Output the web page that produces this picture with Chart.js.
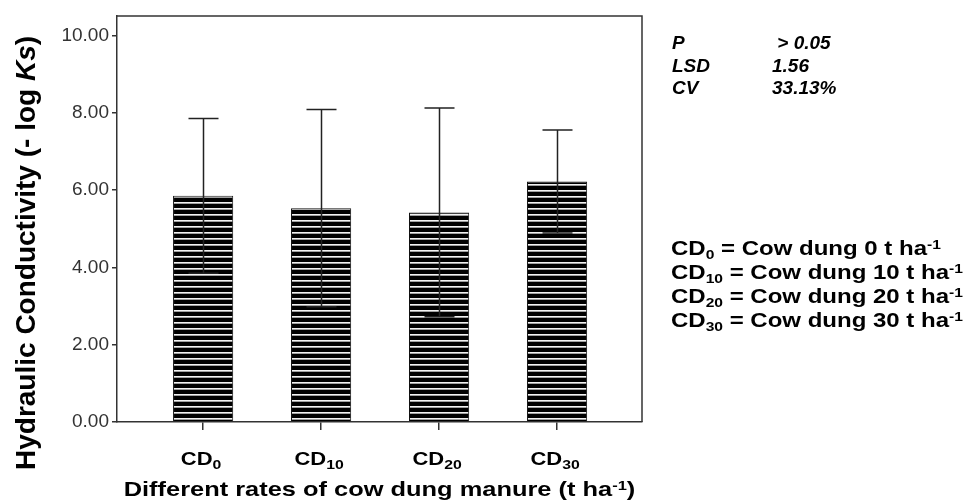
<!DOCTYPE html>
<html>
<head>
<meta charset="utf-8">
<script src="https://cdn.jsdelivr.net/npm/chart.js@4.4.1/dist/chart.umd.min.js"></script>
<style>
  html, body { margin: 0; padding: 0; background: #fff; }
</style>
</head>
<body>
<canvas id="hcChart" width="979" height="504"></canvas>
<script>
// values; _{..} = subscript, ^{..} = superscript
const categories = ['CD_{0}', 'CD_{10}', 'CD_{20}', 'CD_{30}'];
const meanValues = [5.85, 5.53, 5.42, 6.22];
const errorValues = [2.0, 2.55, 2.7, 1.33];
const yTicks = [0, 2, 4, 6, 8, 10];
const statLabels = ['P', 'LSD', 'CV'];
const statValues = [' > 0.05', '1.56', '33.13%'];
const legendLines = [
  'CD_{0} = Cow dung 0 t ha^{-1}',
  'CD_{10} = Cow dung 10 t ha^{-1}',
  'CD_{20} = Cow dung 20 t ha^{-1}',
  'CD_{30} = Cow dung 30 t ha^{-1}'
];
const xTitle = 'Different rates of cow dung manure (t ha^{-1})';

const FONT = 'Arial, "Liberation Sans", sans-serif';

// horizontal stripe fill like the SPSS hatch
function stripePattern(ctx) {
  const c = document.createElement('canvas');
  c.width = 6; c.height = 6;
  const g = c.getContext('2d');
  g.fillStyle = '#000';
  g.fillRect(0, 0, 6, 6);
  g.fillStyle = '#f2f2f2';
  g.fillRect(0, 4, 6, 1);
  g.fillStyle = '#a0a0a0';
  g.fillRect(0, 5, 6, 1);
  return ctx.createPattern(c, 'repeat');
}

// draw text with sub/superscripts, stretched horizontally by sx
function drawRich(ctx, str, x, y, size, style, sx, align, subRatio) {
  const segs = str.split(/(_\{[^}]*\}|\^\{[^}]*\})/).filter(s => s.length).map(s => {
    if (s.startsWith('_{')) return { t: s.slice(2, -1), f: size * subRatio, dy: size * 0.22 };
    if (s.startsWith('^{')) return { t: s.slice(2, -1), f: size * 0.65, dy: -size * 0.3 };
    return { t: s, f: size, dy: 0 };
  });
  let w = 0;
  segs.forEach(s => {
    ctx.font = style + ' ' + s.f + 'px ' + FONT;
    s.w = ctx.measureText(s.t).width;
    w += s.w;
  });
  ctx.save();
  ctx.translate(x, y);
  ctx.scale(sx, 1);
  let xo = align === 'center' ? -w / 2 : 0;
  ctx.textAlign = 'left';
  segs.forEach(s => {
    ctx.font = style + ' ' + s.f + 'px ' + FONT;
    ctx.fillText(s.t, xo, s.dy);
    xo += s.w;
  });
  ctx.restore();
}

// error bars (mean +/- error)
const errorBars = {
  id: 'errorBars',
  afterDatasetsDraw(chart) {
    const { ctx, scales: { x, y } } = chart;
    ctx.save();
    ctx.strokeStyle = '#222';
    ctx.lineWidth = 1.5;
    meanValues.forEach((m, i) => {
      const px = Math.round(x.getPixelForValue(i)) + 0.5;
      const top = y.getPixelForValue(m + errorValues[i]);
      const bot = y.getPixelForValue(m - errorValues[i]);
      ctx.beginPath();
      ctx.moveTo(px, top); ctx.lineTo(px, bot);
      ctx.moveTo(px - 15, top); ctx.lineTo(px + 15, top);
      ctx.moveTo(px - 15, bot); ctx.lineTo(px + 15, bot);
      ctx.stroke();
    });
    ctx.restore();
  }
};

// frame, category labels, titles and the text notes at the right
const annotations = {
  id: 'annotations',
  afterDraw(chart) {
    const { ctx, chartArea: a, scales: { x } } = chart;
    ctx.save();
    ctx.strokeStyle = '#333';
    ctx.lineWidth = 1.5;
    ctx.beginPath();
    ctx.moveTo(a.left, a.top); ctx.lineTo(a.right, a.top); ctx.lineTo(a.right, a.bottom);
    ctx.stroke();

    ctx.fillStyle = '#000';
    ctx.textBaseline = 'alphabetic';

    // category labels under the ticks
    categories.forEach((c, i) => {
      drawRich(ctx, c, x.getPixelForValue(i) - 2, 465, 18, 'bold', 1.22, 'center', 0.72);
    });

    // y title with italic Ks
    ctx.save();
    ctx.translate(35, 470);
    ctx.rotate(-Math.PI / 2);
    const parts = [['Hydraulic Conductivity (- log ', 'bold'], ['Ks', 'italic bold'], [')', 'bold']];
    let xo = 0;
    parts.forEach(([t, st]) => {
      ctx.font = st + ' 28px ' + FONT;
      ctx.fillText(t, xo, 0);
      xo += ctx.measureText(t).width;
    });
    ctx.restore();

    // x title
    drawRich(ctx, xTitle, (a.left + a.right) / 2, 496, 21, 'bold', 1.21, 'center', 0.65);

    // statistics
    ctx.textAlign = 'left';
    ctx.font = 'italic bold 19px ' + FONT;
    statLabels.forEach((s, i) => {
      const by = 49 + i * 22.5;
      ctx.fillText(s, 672, by);
      ctx.fillText(statValues[i], 772, by);
    });

    // treatment key
    legendLines.forEach((s, i) => {
      drawRich(ctx, s, 671, 255 + i * 24, 20, 'bold', 1.2, 'left', 0.65);
    });
    ctx.restore();
  }
};

const ctx = document.getElementById('hcChart').getContext('2d');
const hcChart = new Chart(ctx, {
  type: 'bar',
  data: {
    datasets: [{
      data: meanValues.map((v, i) => ({ x: i, y: v })),
      backgroundColor: stripePattern(ctx),
      borderColor: '#111',
      borderWidth: 1,
      barPercentage: 0.51,
      categoryPercentage: 1.0
    }]
  },
  options: {
    responsive: false,
    animation: false,
    devicePixelRatio: 1,
    layout: { padding: { top: 16, right: 337, left: 0, bottom: 0 } },
    plugins: {
      legend: { display: false },
      tooltip: { enabled: false }
    },
    scales: {
      x: {
        type: 'linear',
        offset: false,
        min: -0.73,
        max: 3.72,
        afterBuildTicks: s => { s.ticks = categories.map((c, i) => ({ value: i })); },
        afterFit: s => { s.height = 82; },
        grid: { offset: false, drawOnChartArea: false, tickLength: 8, color: '#333', lineWidth: 1.5 },
        border: { color: '#333', width: 1.5 },
        ticks: { display: false }
      },
      y: {
        min: 0,
        max: 10.5,
        afterBuildTicks: s => { s.ticks = yTicks.map(v => ({ value: v })); },
        afterFit: s => { s.width = 117; },
        grid: { drawOnChartArea: false, tickLength: 5, color: '#333', lineWidth: 1.5 },
        border: { color: '#333', width: 1.5 },
        ticks: {
          callback: v => v.toFixed(2),
          font: { family: FONT, size: 19 },
          color: '#333',
          padding: 3
        }
      }
    }
  },
  plugins: [errorBars, annotations]
});
</script>
</body>
</html>
